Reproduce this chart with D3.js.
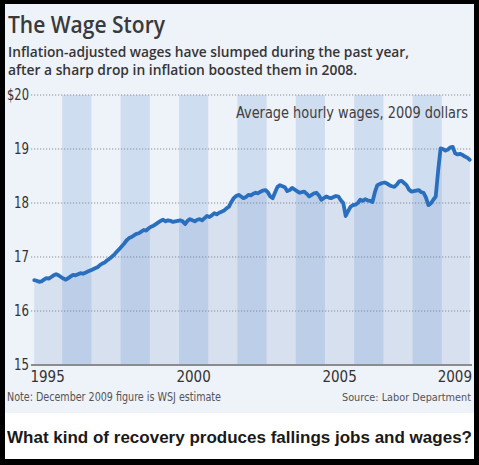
<!DOCTYPE html>
<html><head><meta charset="utf-8">
<script src="https://cdn.jsdelivr.net/npm/d3@7"></script>
<style>
html,body{margin:0;padding:0;background:#000;}
svg{display:block;}
</style></head>
<body>
<script>
// ---- data ----
const startYear = 1995;
const w1995 = [16.57,16.56,16.54,16.55,16.58,16.61,16.60,16.63,16.66,16.68,16.66,16.63];
const w1996 = [16.60,16.58,16.61,16.64,16.67,16.66,16.68,16.70,16.69,16.71,16.73,16.75];
const w1997 = [16.77,16.79,16.81,16.85,16.88,16.90,16.94,16.97,17.01,17.05,17.10,17.15];
const w1998 = [17.20,17.25,17.31,17.35,17.37,17.40,17.43,17.44,17.47,17.50,17.49,17.53];
const w1999 = [17.56,17.58,17.61,17.64,17.67,17.69,17.66,17.68,17.67,17.65,17.66,17.67];
const w2000 = [17.68,17.66,17.61,17.67,17.70,17.68,17.66,17.69,17.70,17.68,17.72,17.76];
const w2001 = [17.74,17.77,17.81,17.79,17.82,17.84,17.86,17.90,17.93,18.02,18.09,18.13];
const w2002 = [18.15,18.12,18.09,18.11,18.15,18.14,18.17,18.19,18.18,18.21,18.23,18.24];
const w2003 = [18.20,18.12,18.09,18.20,18.30,18.33,18.31,18.29,18.22,18.24,18.28,18.25];
const w2004 = [18.22,18.19,18.20,18.21,18.17,18.12,18.15,18.18,18.19,18.14,18.06,18.09];
const w2005 = [18.12,18.10,18.09,18.11,18.13,18.12,18.05,18.00,17.76,17.85,17.93,17.96];
const w2006 = [17.97,18.00,18.06,18.04,18.07,18.05,18.04,18.02,18.20,18.33,18.35,18.37];
const w2007 = [18.38,18.36,18.33,18.31,18.30,18.34,18.40,18.41,18.37,18.33,18.25,18.21];
const w2008 = [18.22,18.23,18.24,18.20,18.19,18.10,17.96,17.99,18.06,18.12,18.60,19.01];
const w2009 = [19.00,18.97,18.99,19.03,19.04,18.92,18.90,18.91,18.89,18.86,18.84,18.80];
const yearlyWages = [w1995,w1996,w1997,w1998,w1999,w2000,w2001,w2002,w2003,w2004,w2005,w2006,w2007,w2008,w2009];
const shadedYears = [1996,1998,2000,2002,2004,2006,2008];
const yTicks = [15,16,17,18,19,20];
const yTickLabels = ["15","16","17","18","19","$20"];
const xLabels = [{year:1995,label:"1995"},{year:2000,label:"2000"},{year:2005,label:"2005"},{year:2009,label:"2009"}];
const titleText = "The Wage Story";
const subtitleLines = ["Inflation-adjusted wages have slumped during the past year,","after a sharp drop in inflation boosted them in 2008."];
const seriesLabel = "Average hourly wages, 2009 dollars";
const noteText = "Note: December 2009 figure is WSJ estimate";
const sourceText = "Source: Labor Department";
const captionText = "What kind of recovery produces fallings jobs and wages?";

const data = [];
yearlyWages.forEach((arr, yi) => arr.forEach((v, m) => data.push({t: startYear + yi + (m + 0.5) / 12, v})));

// ---- layout ----
const W = 479, H = 465;
const font = "'Liberation Sans Narrow','DejaVu Sans Condensed','Roboto Condensed',sans-serif";
const headFont = "'Open Sans','Noto Sans','DejaVu Sans',sans-serif";
const svg = d3.select("body").append("svg").attr("width", W).attr("height", H);

svg.append("rect").attr("width", W).attr("height", H).attr("fill", "#000");
svg.append("rect").attr("x", 5).attr("y", 4).attr("width", 469).attr("height", 409).attr("fill", "#eef2f9");
svg.append("rect").attr("x", 5).attr("y", 413).attr("width", 469).attr("height", 46).attr("fill", "#fff");

const x = d3.scaleLinear().domain([1995, 2010]).range([33, 471]);
const y = d3.scaleLinear().domain([15, 20]).range([365, 95]);

// stripes
svg.append("g").selectAll("rect").data(shadedYears).join("rect")
  .attr("x", d => x(d)).attr("width", d => x(d + 1) - x(d))
  .attr("y", y(20)).attr("height", y(15) - y(20))
  .attr("fill", "#cfddf1");

// gridlines
svg.append("g").selectAll("line").data(yTicks.filter(d => d > 15)).join("line")
  .attr("x1", 31).attr("x2", 472).attr("y1", d => y(d)).attr("y2", d => y(d))
  .attr("stroke", "#8a8f99").attr("stroke-width", 1).attr("stroke-dasharray", "1.2,1.8");

// area
const area = d3.area().x(d => x(d.t)).y0(y(15)).y1(d => y(d.v));
svg.append("path").datum(data).attr("d", area).attr("fill", "#3c6eb4").attr("fill-opacity", 0.13);

// baseline
svg.append("line").attr("x1", 31).attr("x2", 472).attr("y1", y(15)).attr("y2", y(15))
  .attr("stroke", "#8c8c8c").attr("stroke-width", 2);

// line
const line = d3.line().x(d => x(d.t)).y(d => y(d.v));
svg.append("path").datum(data).attr("d", line).attr("fill", "none")
  .attr("stroke", "#2a6fbd").attr("stroke-width", 3.8).attr("stroke-linejoin", "round").attr("stroke-linecap", "round");

// y labels
svg.append("g").selectAll("text").data(yTicks).join("text")
  .attr("x", 29).attr("y", d => y(d) + 5).attr("text-anchor", "end")
  .attr("font-family", font).attr("font-size", 15).attr("fill", "#333")
  .attr("textLength", (d, i) => yTickLabels[i].length === 3 ? 22 : 15).attr("lengthAdjust", "spacingAndGlyphs")
  .text((d, i) => yTickLabels[i]);

// x labels
svg.append("g").selectAll("text").data(xLabels).join("text")
  .attr("x", d => d.year === 2009 ? 472 : x(d.year + 0.5))
  .attr("y", 382)
  .attr("text-anchor", d => d.year === 2009 ? "end" : "middle")
  .attr("font-family", font).attr("font-size", 15).attr("fill", "#333")
  .text(d => d.label);

// series label
svg.append("text").attr("x", 468).attr("y", 118).attr("text-anchor", "end")
  .attr("font-family", font).attr("font-size", 15).attr("fill", "#404040")
  .attr("textLength", 232).attr("lengthAdjust", "spacingAndGlyphs").text(seriesLabel);

// title
svg.append("text").attr("x", 8).attr("y", 33)
  .attr("font-family", headFont).attr("font-weight", 600).attr("font-size", 24).attr("fill", "#3a3a3a")
  .attr("textLength", 157).attr("lengthAdjust", "spacingAndGlyphs").text(titleText);

const subLens = [401, 349];
subtitleLines.forEach((s, i) => {
  svg.append("text").attr("x", 8).attr("y", 57 + i * 18)
    .attr("font-family", headFont).attr("font-weight", 600).attr("font-size", 14.5).attr("fill", "#363636")
    .attr("textLength", subLens[i]).attr("lengthAdjust", "spacingAndGlyphs").text(s);
});

// note & source
svg.append("text").attr("x", 7).attr("y", 401)
  .attr("font-family", font).attr("font-size", 12).attr("fill", "#555")
  .attr("textLength", 214).attr("lengthAdjust", "spacingAndGlyphs").text(noteText);
svg.append("text").attr("x", 471).attr("y", 401).attr("text-anchor", "end")
  .attr("font-family", font).attr("font-size", 10.8).attr("fill", "#555")
  .text(sourceText);

// caption
svg.append("text").attr("x", 7).attr("y", 443)
  .attr("font-family", "'Liberation Sans',Arial,sans-serif").attr("font-weight", "bold").attr("font-size", 17).attr("fill", "#1a1a1a")
  .attr("textLength", 465).attr("lengthAdjust", "spacingAndGlyphs").text(captionText);

// border overlay
svg.append("rect").attr("x", 474).attr("y", 0).attr("width", 5).attr("height", H).attr("fill", "#000");
svg.append("rect").attr("x", 0).attr("y", 459).attr("width", W).attr("height", 6).attr("fill", "#000");
</script>
</body></html>
